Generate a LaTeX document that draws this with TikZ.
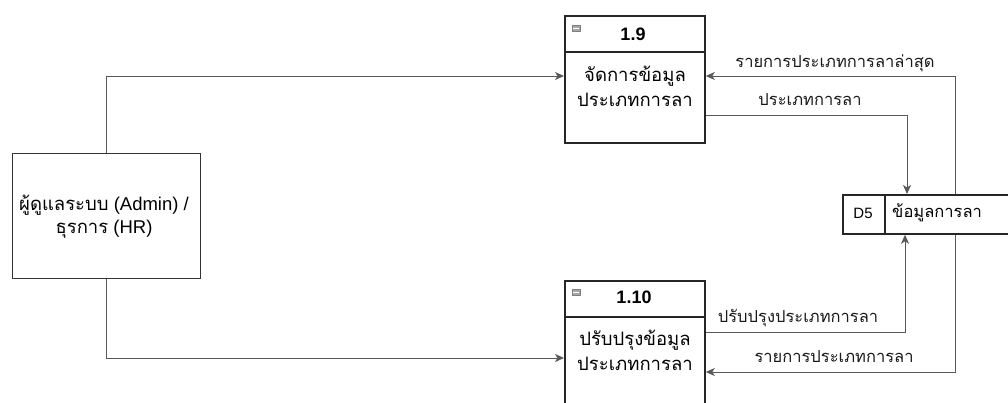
\documentclass[tikz,border=0pt]{standalone}
\usepackage{fontspec}
\setmainfont{Liberation Sans}
\newfontfamily\thai[Script=Thai]{Loma}
\usetikzlibrary{calc,arrows.meta}
\tikzset{
  boxline/.style={draw=black!85, line width=1.8pt},
  conn/.style={draw=black!65, line width=1pt},
  arr/.style={conn, -{Stealth[length=9pt,width=8pt,inset=2.5pt]}, shorten >=0pt},
  lbl/.style={font=\fontsize{16.5}{18}\selectfont\thai, text=black!90, inner sep=0pt},
  body/.style={font=\fontsize{18.5}{25}\selectfont\thai, align=center, inner sep=0pt},
  ttl/.style={font=\fontsize{18}{20}\selectfont\bfseries, inner sep=0pt},
}
\begin{document}
\begin{tikzpicture}[x=1pt,y=-1pt]
\useasboundingbox (0,0) rectangle (1008,402);
\fill[white] (0,0) rectangle (1008,402);
\clip (0,0) rectangle (1008,402);

% entity
\node[draw=black!80, line width=1.2pt, minimum width=188pt, minimum height=125pt, anchor=north west, inner sep=0pt] (ent) at (12,153) {};
\node[body, font=\fontsize{18.5}{23}\selectfont] (enttext) at (104,217) {{\thai ผู้ดูแลระบบ} (Admin) /\\{\thai ธุรการ} (HR)};

% process 1.9
\node[boxline, minimum width=140pt, minimum height=127pt, anchor=north west, inner sep=0pt] (p19) at (564,15) {};
\draw[boxline] ($(p19.north west)+(0,37)$) -- ($(p19.north east)+(0,37)$);
\node[ttl] (p19id) at (633,34) {1.9};
\node[body] (p19text) at (635,86) {จัดการข้อมูล\\ประเภทการลา};
\node[draw=black!50, fill=black!35, minimum width=8pt, minimum height=6pt, inner sep=0pt] (ic1) at (576,28) {};
\draw[white, line width=0.8pt] ($(ic1.west)+(1.5,0)$) -- ($(ic1.east)+(-1.5,0)$);

% process 1.10
\node[boxline, minimum width=140pt, minimum height=160pt, anchor=north west, inner sep=0pt] (p110) at (564,280) {};
\draw[boxline] ($(p110.north west)+(0,37)$) -- ($(p110.north east)+(0,37)$);
\node[ttl] (p110id) at (634,297) {1.10};
\node[body] (p110text) at (635,350) {ปรับปรุงข้อมูล\\ประเภทการลา};
\node[draw=black!50, fill=black!35, minimum width=8pt, minimum height=6pt, inner sep=0pt] (ic2) at (576,292) {};
\draw[white, line width=0.8pt] ($(ic2.west)+(1.5,0)$) -- ($(ic2.east)+(-1.5,0)$);

% data store D5
\node[boxline, minimum width=180pt, minimum height=39pt, anchor=north west, inner sep=0pt] (d5) at (842,194) {};
\draw[boxline] ($(d5.north west)+(43,0)$) -- ($(d5.south west)+(43,0)$);
\node[font=\fontsize{15}{16}\selectfont, inner sep=0pt] (d5id) at (863,213) {D5};
\node[font=\fontsize{16.5}{18}\selectfont\thai, anchor=west, inner sep=0pt] (d5name) at (892,213) {ข้อมูลการลา};

% connectors
\draw[arr] (ent.north) |- ($(p19.north west)+(0,61)$);
\draw[arr] (ent.south) |- ($(p110.north west)+(0,78)$);
\draw[arr] ($(d5.north west)+(113,0)$) |- ($(p19.north east)+(0,61)$);
\draw[arr] ($(p19.north east)+(0,100)$) -| ($(d5.north west)+(65,0)$);
\draw[arr] ($(p110.north east)+(0,52)$) -| ($(d5.south west)+(63,0)$);
\draw[arr] ($(d5.south west)+(113,0)$) |- ($(p110.north east)+(0,92)$);

% labels
\node[lbl] (l1) at (835,63) {รายการประเภทการลาล่าสุด};
\node[lbl] (l2) at (810,100) {ประเภทการลา};
\node[lbl] (l3) at (798,318) {ปรับปรุงประเภทการลา};
\node[lbl] (l4) at (834,357) {รายการประเภทการลา};
\end{tikzpicture}
\end{document}
